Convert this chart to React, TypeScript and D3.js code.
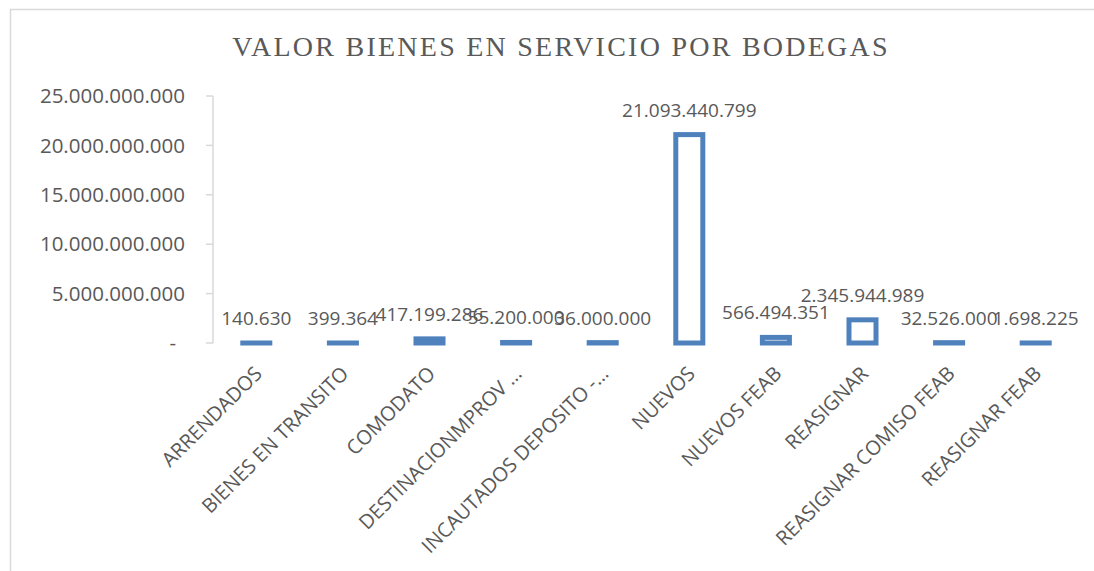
import React from "react";
import * as d3 from "d3";

// data
const categories = [
  "ARRENDADOS",
  "BIENES EN TRANSITO",
  "COMODATO",
  "DESTINACIONMPROV …",
  "INCAUTADOS DEPOSITO -…",
  "NUEVOS",
  "NUEVOS FEAB",
  "REASIGNAR",
  "REASIGNAR COMISO FEAB",
  "REASIGNAR FEAB",
];
const values = [
  140630, 399364, 417199286, 55200000, 36000000, 21093440799, 566494351,
  2345944989, 32526000, 1698225,
];
const yTicks = [0, 5e9, 10e9, 15e9, 20e9, 25e9];
const title = "VALOR BIENES EN SERVICIO POR BODEGAS";

const width = 1094;
const height = 571;
const textColor = "#595959";
const lineColor = "#d9d9d9";
const barColor = "#4f81bd";

const locale = d3.formatLocale({
  decimal: ",",
  thousands: ".",
  grouping: [3],
  currency: ["", ""],
});
const fmt = locale.format(",d");
const tickFmt = (d: number) => (d === 0 ? "-" : fmt(d));

const App = () => {
  const x = d3
    .scaleBand<string>()
    .domain(categories)
    .range([213, 1079])
    .paddingInner(0.688)
    .paddingOuter(0.344);

  const y = d3.scaleLinear().domain([0, 25e9]).range([343, 96]);

  return (
    <div style={{ position: "absolute", left: 0, top: 0 }}>
      <svg width={width} height={height} style={{ display: "block" }}>
        <rect x={0} y={0} width={width} height={height} fill="#fff" />
        {/* chart border, runs past the picture on right and bottom */}
        <rect
          x={10.5}
          y={9.5}
          width={1200}
          height={700}
          fill="none"
          stroke={lineColor}
          strokeWidth={1.5}
        />

        <text
          x={561}
          y={56}
          textAnchor="middle"
          fill={textColor}
          fontFamily="'Liberation Serif', 'DejaVu Serif', serif"
          fontSize={28}
          letterSpacing={2.25}
        >
          {title}
        </text>

        {/* y axis */}
        <g>
          <line
            x1={213}
            x2={213}
            y1={y(25e9)}
            y2={y(0)}
            stroke={lineColor}
            strokeWidth={1.5}
          />
          {yTicks.map((t) => (
            <g key={t} transform={`translate(0,${y(t)})`}>
              <line x1={206} x2={213} stroke={lineColor} strokeWidth={1.5} />
              <text
                x={t === 0 ? 176 : 185}
                dy="0.35em"
                textAnchor="end"
                fill={textColor}
                fontFamily="'Open Sans', sans-serif"
                fontSize={20.5}
              >
                {tickFmt(t)}
              </text>
            </g>
          ))}
        </g>

        {/* bars */}
        <g>
          {categories.map((c, i) => (
            <rect
              key={c}
              x={x(c)}
              y={y(values[i])}
              width={x.bandwidth()}
              height={y(0) - y(values[i])}
              fill="#fff"
              stroke={barColor}
              strokeWidth={5}
            />
          ))}
        </g>

        {/* data labels */}
        <g
          fontFamily="'Open Sans', sans-serif"
          fontSize={19}
          fill={textColor}
          textAnchor="middle"
        >
          {categories.map((c, i) => (
            <text
              key={c}
              x={(x(c) as number) + x.bandwidth() / 2}
              y={y(values[i]) - 18}
            >
              {fmt(values[i])}
            </text>
          ))}
        </g>

        {/* category labels */}
        <g
          fontFamily="'Open Sans', sans-serif"
          fontSize={20}
          fill={textColor}
          textAnchor="end"
        >
          {categories.map((c) => (
            <text
              key={c}
              dy="0.35em"
              transform={`translate(${(x(c) as number) + x.bandwidth() / 2 + 2},370) rotate(-45)`}
            >
              {c}
            </text>
          ))}
        </g>
      </svg>
    </div>
  );
};

export default App;
